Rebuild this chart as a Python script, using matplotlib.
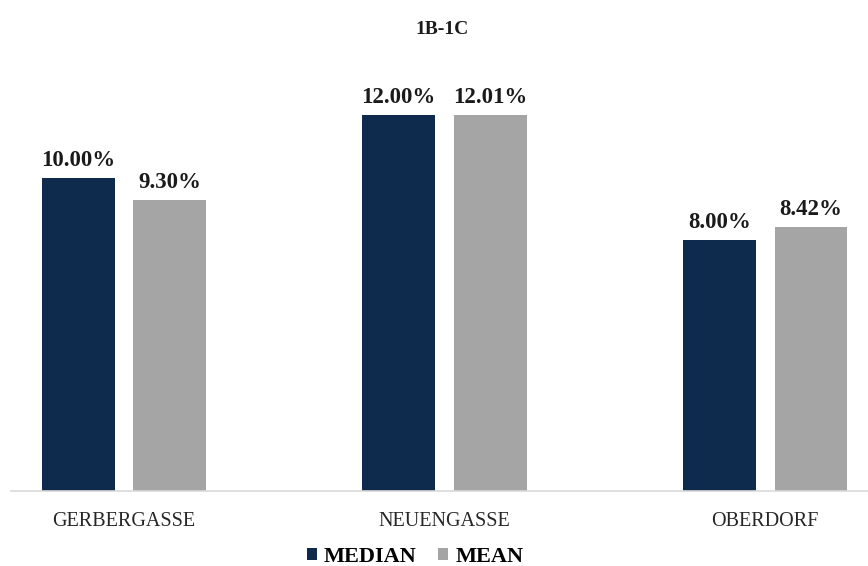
from matplotlib import pyplot as plt
import numpy as np

plt.rcParams['font.family'] = ['Liberation Serif', 'DejaVu Serif']

categories = ["GERBERGASSE", "NEUENGASSE", "OBERDORF"]
median = [10.00, 12.00, 8.00]
mean = [9.30, 12.01, 8.42]
median_labels = ["10.00%", "12.00%", "8.00%"]
mean_labels = ["9.30%", "12.01%", "8.42%"]

navy = "#0E2A4C"
grey = "#A5A5A5"

fig = plt.figure(figsize=(8.68, 5.66), dpi=100)
ax = fig.add_axes([11 / 868, 75 / 566, 857 / 868, 438.7 / 566])

x = np.arange(len(categories))
w = 0.227
off = 0.143

b1 = ax.bar(x - off, median, w, color=navy, label="MEDIAN")
b2 = ax.bar(x + off, mean, w, color=grey, label="MEAN")

for bars, labels in ((b1, median_labels), (b2, mean_labels)):
    for bar, lab in zip(bars, labels):
        ax.annotate(lab, (bar.get_x() + bar.get_width() / 2, bar.get_height()),
                    xytext=(0, 5), textcoords="offset points",
                    ha="center", va="bottom", fontsize=16.5, fontweight="bold",
                    color="#1a1a1a")

ax.set_xlim(-0.3526, 2.321)
ax.set_ylim(0, 14)
ax.set_yticks([])
ax.set_xticks(x)
ax.set_xticklabels(categories, fontsize=14.5, color="#262626")
ax.tick_params(axis="x", length=0, pad=15)
for s in ("top", "right", "left"):
    ax.spines[s].set_visible(False)
ax.spines["bottom"].set_color("#D9D9D9")
ax.spines["bottom"].set_linewidth(1.2)

fig.text(442 / 868, 1 - 29 / 566, "1B-1C", ha="center", va="center",
         fontsize=14, fontweight="bold", color="#1a1a1a")

fig.legend(loc="center", bbox_to_anchor=(415 / 868, 1 - 557 / 566), ncol=2,
           frameon=False, prop={"weight": "bold", "size": 16},
           handlelength=0.45, handleheight=0.45, handletextpad=0.3,
           columnspacing=1.0)

fig.savefig("out.png", dpi=100)
